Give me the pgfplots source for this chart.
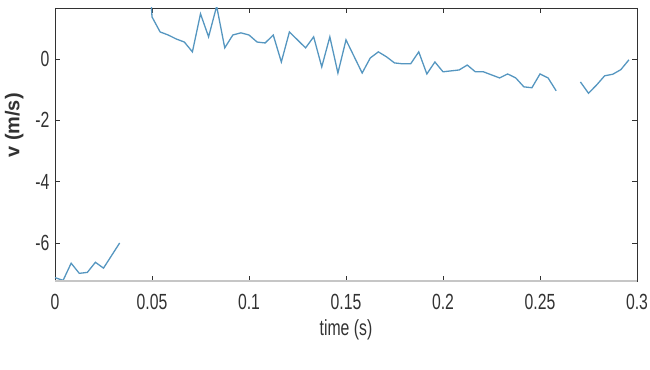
\documentclass[border=0pt]{standalone}
\usepackage{fontspec}
\setmainfont{Liberation Sans}[FakeStretch=0.72]
\newfontfamily\ylfont{Liberation Sans}
\usepackage{pgfplots}
\pgfplotsset{compat=1.18}
\definecolor{linec}{RGB}{85,150,192}
\definecolor{axc}{RGB}{50,50,50}
\begin{document}
\begin{tikzpicture}
\begin{axis}[
  scale only axis, width=582bp, height=273bp,
  xmin=0, xmax=0.3, ymin=-7.24, ymax=1.66,
  xtick={0,0.05,0.1,0.15,0.2,0.25,0.3},
  xticklabels={0,0.05,0.1,0.15,0.2,0.25,0.3},
  ytick={-6,-4,-2,0},
  yticklabels={-6,-4,-2,0},
  tick align=inside, tick pos=both,
  major tick length=5bp,
  tick style={axc, line width=0.6bp},
  axis line style={axc, line width=0.7bp},
  tick label style={font=\fontsize{22}{25}\selectfont, text=axc},
  xticklabel style={yshift=-10bp},
  yticklabel style={xshift=-2bp},
  xlabel={time (s)},
  ylabel={v (m/s)},
  xlabel style={font=\fontsize{22}{25}\selectfont, text=axc, at={(axis description cs:0.5,-0.18)}, anchor=center},
  ylabel style={font=\ylfont\bfseries\fontsize{20}{24}\selectfont, text=axc, at={(axis description cs:-0.07,0.57)}, anchor=center},
  clip=true,
]
\addplot[linec, line width=1.3bp] coordinates {
(0,-7.13) (0.00417,-7.22) (0.00833,-6.66) (0.0125,-6.99) (0.01667,-6.96)
(0.02083,-6.63) (0.025,-6.82) (0.02917,-6.41) (0.03333,-6.0)
};
\addplot[linec, line width=1.3bp] coordinates {
(0.04583,6.0) (0.05,1.37) (0.05417,0.88) (0.05833,0.78) (0.0625,0.65)
(0.06667,0.55) (0.07083,0.23) (0.075,1.47) (0.07917,0.72) (0.08333,1.72)
(0.0875,0.36) (0.09167,0.78) (0.09583,0.85) (0.1,0.78) (0.10417,0.55)
(0.10833,0.52) (0.1125,0.78) (0.11667,-0.1) (0.12083,0.88) (0.125,0.62)
(0.12917,0.36) (0.13333,0.72) (0.1375,-0.26) (0.14167,0.72) (0.14583,-0.46)
(0.15,0.62) (0.15417,0.08) (0.15833,-0.46) (0.1625,0.03) (0.16667,0.23)
(0.17083,0.07) (0.175,-0.13) (0.17917,-0.16) (0.18333,-0.16) (0.1875,0.23)
(0.19167,-0.49) (0.19583,-0.1) (0.2,-0.42) (0.20417,-0.39) (0.20833,-0.36)
(0.2125,-0.2) (0.21667,-0.42) (0.22083,-0.42) (0.225,-0.52) (0.22917,-0.62)
(0.23333,-0.49) (0.2375,-0.62) (0.24167,-0.91) (0.24583,-0.94) (0.25,-0.49)
(0.25417,-0.62) (0.25833,-1.04)
};
\addplot[linec, line width=1.3bp] coordinates {
(0.27083,-0.75) (0.275,-1.12) (0.27917,-0.85) (0.28333,-0.55) (0.2875,-0.5)
(0.29167,-0.35) (0.29583,-0.03)
};
\end{axis}
\draw[color=gray!45, line width=2.5bp] (current axis.south west) -- (current axis.south east);
\pgfresetboundingbox
\path (current axis.south west) ++(-55bp,-89bp) rectangle ++(650bp,370bp);
\end{tikzpicture}
\end{document}
